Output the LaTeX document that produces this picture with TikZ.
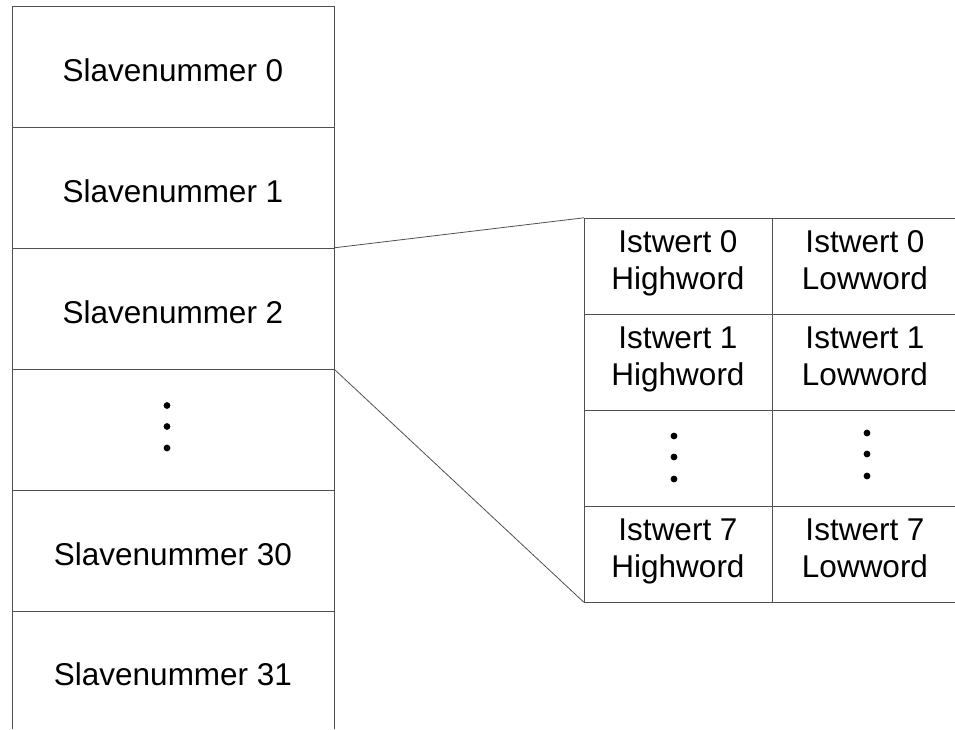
\documentclass[tikz,border=0pt]{standalone}
\usepackage{fontspec}
\setmainfont{Liberation Sans}
\usetikzlibrary{calc}
\definecolor{rulegray}{HTML}{505050}
\tikzset{
  grid/.style={
    draw=rulegray,
    line width=1pt
  },
  cell/.style={
    inner sep=0pt,
    align=center,
    font=\fontsize{31.5}{37}\selectfont
  },
  slot/.style={
    cell,
    minimum width=322pt,
    minimum height=121pt,
    text height=30pt,
    text depth=0pt
  },
  word/.style={
    cell,
    minimum width=188pt,
    minimum height=96pt,
    execute at begin node=\strut,
    execute at end node=\strut
  },
  link/.style={
    draw=rulegray,
    line width=0.8pt
  },
  dot/.style={
    fill=black
  }
}

\begin{document}
\begin{tikzpicture}[x=1pt,y=-1pt]
  \useasboundingbox (0,0) rectangle (955,729);

  % Slave slots
  \draw[grid] (12,729) -- (12,6) -- (334,6) -- (334,729);
  \foreach \y in {127,248,369,490,611}
    \draw[grid] (12,\y) -- (334,\y);

  \node[slot] (slave0) at (173,66.5) {Slavenummer 0};
  \node[slot] (slave1) at (173,187.5) {Slavenummer 1};
  \node[slot] (slave2) at (173,308.5) {Slavenummer 2};
  \node[slot] (slaveDots) at (173,429.5) {};
  \node[slot] (slave30) at (173,550.5) {Slavenummer 30};
  \node[slot, minimum height=118pt] (slave31) at (173,670) {Slavenummer 31};

  \foreach \dy in {-24,-3,18.5}
    \fill[dot] ($(slaveDots)+(-6,\dy)$) circle (3.4);

  % Actual values of one slave
  \draw[grid] (584,602) -- (584,218);
  \draw[grid] (772,602) -- (772,218);
  \foreach \y in {218,314,410,506,602}
    \draw[grid] (584,\y) -- (955,\y);

  \node[word] (high0) at (678,266) {Istwert 0\\Highword};
  \node[word, minimum width=183pt] (low0) at (865,266) {Istwert 0\\Lowword};
  \node[word] (high1) at (678,362) {Istwert 1\\Highword};
  \node[word, minimum width=183pt] (low1) at (865,362) {Istwert 1\\Lowword};
  \node[word] (highDots) at (678,458) {};
  \node[word, minimum width=183pt] (lowDots) at (865,458) {};
  \node[word] (high7) at (678,554) {Istwert 7\\Highword};
  \node[word, minimum width=183pt] (low7) at (865,554) {Istwert 7\\Lowword};

  \foreach \dy in {-22,-1,21}
    \fill[dot] ($(highDots)+(-4,\dy)$) circle (3.4);
  \foreach \dy in {-25,-4,18}
    \fill[dot] ($(lowDots)+(2,\dy)$) circle (3.4);

  % Zoom lines from slot 2 to the table
  \draw[link] (slave2.north east) -- (high0.north west);
  \draw[link] (slave2.south east) -- (high7.south west);
\end{tikzpicture}
\end{document}
